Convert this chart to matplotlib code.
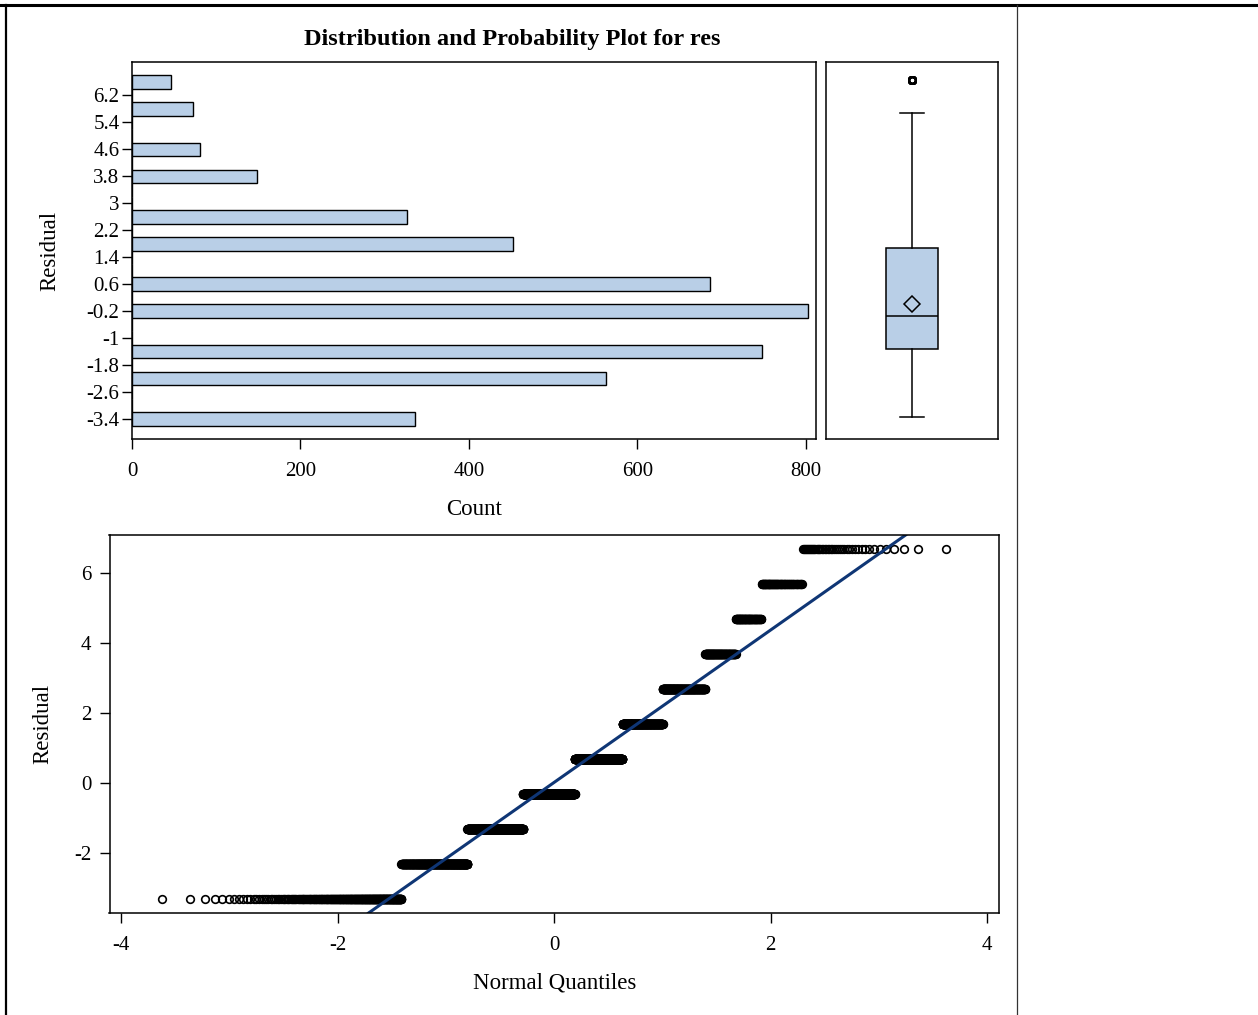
"""Distribution and probability plot for residuals (SAS-style layout):
horizontal histogram + box plot on top, normal Q-Q plot below.

Output: out.png
"""

from statistics import NormalDist

import matplotlib
matplotlib.use("Agg")
import matplotlib.pyplot as plt
import numpy as np
from matplotlib.lines import Line2D

plt.rcParams["font.family"] = ["Liberation Serif", "DejaVu Serif"]
plt.rcParams["axes.unicode_minus"] = False

BAR = "#b9cfe7"
FIT = "#0f3675"

# residual levels (discrete) and how many observations sit at each
levels = [-3.33, -2.33, -1.33, -0.33, 0.67, 1.67, 2.67, 3.67, 4.67, 5.67, 6.67]
counts = [336, 563, 748, 802, 686, 452, 326, 148, 81, 72, 46]

hist_ticks = [-3.4, -2.6, -1.8, -1.0, -0.2, 0.6, 1.4, 2.2, 3.0, 3.8, 4.6, 5.4, 6.2]
count_ticks = [0, 200, 400, 600, 800]
qq_xticks = [-4, -2, 0, 2, 4]
qq_yticks = [-2, 0, 2, 4, 6]

res = np.repeat(levels, counts)
edges = np.arange(-3.6, 7.0, 0.4)

W, H = 1258, 1015
fig = plt.figure(figsize=(W / 100, H / 100), dpi=100)


def px_axes(x0, y0, x1, y1):
    return fig.add_axes([x0 / W, 1 - y1 / H, (x1 - x0) / W, (y1 - y0) / H])


def style(ax):
    for s in ax.spines.values():
        s.set_linewidth(1.1)
    ax.tick_params(direction="out", length=7, width=1.0, labelsize=15)


# --- histogram ---------------------------------------------------------------
axh = px_axes(132, 62, 816, 439)
axh.hist(res, bins=edges, orientation="horizontal", color=BAR,
         edgecolor="black", linewidth=1.0)
axh.set_ylim(-3.99, 7.19)
axh.set_xlim(0, 812)
axh.set_yticks(hist_ticks)
axh.set_yticklabels([f"{v:g}" for v in hist_ticks])
axh.set_xticks(count_ticks)
style(axh)
axh.tick_params(axis="y", pad=2)
axh.tick_params(axis="x", pad=9.5)
axh.set_xlabel("Count", fontsize=16.5, labelpad=13)
axh.set_ylabel("Residual", fontsize=16.5, labelpad=19)

fig.text(512 / W, 1 - 40 / H, "Distribution and Probability Plot for res",
         fontsize=17.5, fontweight="bold", ha="center", va="center")

# --- box plot ----------------------------------------------------------------
axb = px_axes(826, 62, 998, 439)
axb.boxplot(res, positions=[0.5], widths=0.3, whis=1.5, showmeans=True,
            patch_artist=True, capwidths=0.14,
            boxprops=dict(facecolor=BAR, edgecolor="black", linewidth=1.1),
            medianprops=dict(color="black", linewidth=1.1),
            whiskerprops=dict(color="black", linewidth=1.1),
            capprops=dict(color="black", linewidth=1.1),
            meanprops=dict(marker="D", markerfacecolor="none",
                           markeredgecolor="black", markersize=8, markeredgewidth=1.1),
            flierprops=dict(marker="o", markerfacecolor="none",
                            markeredgecolor="black", markersize=5, markeredgewidth=1.4))
axb.set_xlim(0, 1)
axb.set_ylim(axh.get_ylim())
axb.set_xticks([])
axb.set_yticks([])
style(axb)

# --- normal Q-Q plot ---------------------------------------------------------
n = len(res)
srt = np.sort(res)
nd = NormalDist()
z = np.array([nd.inv_cdf((i - 0.375) / (n + 0.25)) for i in range(1, n + 1)])
mu, sigma = res.mean(), res.std(ddof=1)

axq = px_axes(109.5, 535, 999, 913)
axq.plot(z, srt, linestyle="none", marker="o", markersize=5.5,
         markerfacecolor="none", markeredgecolor="black", markeredgewidth=1.2)
axq.axline((0, mu), slope=sigma, color=FIT, linewidth=2.2)
axq.set_xlim(-4.11, 4.11)
axq.set_ylim(-3.73, 7.08)
axq.set_xticks(qq_xticks)
axq.set_yticks(qq_yticks)
style(axq)
axq.tick_params(axis="y", pad=6)
axq.tick_params(axis="x", pad=9.5)
axq.set_xlabel("Normal Quantiles", fontsize=16.5, labelpad=13)
axq.set_ylabel("Residual", fontsize=16.5, labelpad=15)

# --- page frame --------------------------------------------------------------
fig.add_artist(Line2D([0, 1], [1 - 5 / H, 1 - 5 / H], color="black", linewidth=2.2))
fig.add_artist(Line2D([6.3 / W, 6.3 / W], [0, 1 - 5 / H], color="black", linewidth=1.6))
fig.add_artist(Line2D([1016.7 / W, 1016.7 / W], [0, 1 - 5 / H], color="#333333",
                      linewidth=0.9))

fig.savefig("out.png", dpi=100, facecolor="white")
print(f"n={n} mean={mu:.3f} sd={sigma:.3f}")
